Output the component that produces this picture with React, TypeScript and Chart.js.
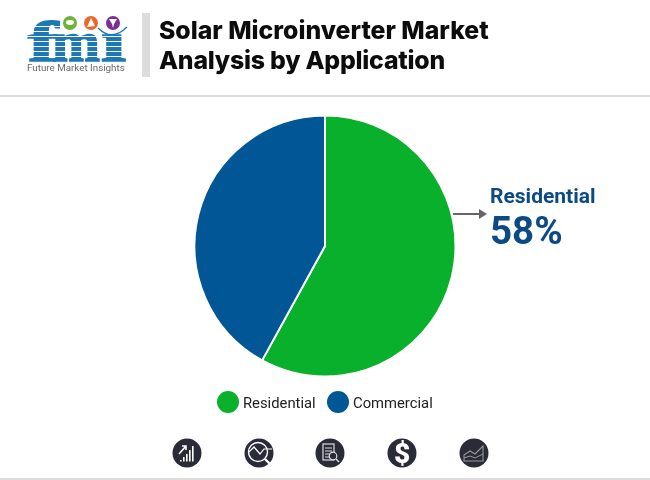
import { useEffect, useRef } from "react"
import { Chart, registerables } from "chart.js"

Chart.register(...registerables)

const categories = ["Residential", "Commercial"]
const shares = [58, 42]
const sliceColors = ["#08b02c", "#015796"]
const titleLines = ["Solar Microinverter Market", "Analysis by Application"]

const ICON_BG = "#2a2b38"
const LOGO_BLUE = "#1d78b6"

function Logo() {
  const stripes = [16, 21, 26, 31, 36, 41, 46]
  const serif = { fontFamily: "'Liberation Serif'", fontWeight: 700, fontSize: 58, fill: LOGO_BLUE, stroke: LOGO_BLUE, strokeWidth: 1.6 }
  return (
    <svg width="130" height="80" style={{ position: "absolute", left: 20, top: 10 }}>
      <text x="8" y="51" {...serif} textLength="30" lengthAdjust="spacingAndGlyphs">f</text>
      <text x="32" y="51" {...serif} textLength="48" lengthAdjust="spacingAndGlyphs">m</text>
      <text x="81" y="51" {...serif} textLength="25" lengthAdjust="spacingAndGlyphs">ı</text>
      {stripes.map((y) => (
        <rect key={y} x="4" y={y} width="104" height="1" fill="#fff" />
      ))}
      <circle cx="50" cy="13" r="7" fill="#6fb23a" />
      <ellipse cx="50" cy="12.5" rx="4" ry="2.4" fill="#fff" />
      <circle cx="71" cy="13" r="7" fill="#e8692a" />
      <path d="M71 8 L75 16 L67 17 Z" fill="#fff" />
      <circle cx="93" cy="13" r="7" fill="#7d2f8e" />
      <path d="M89 9 H97 L94 14 L93 18 L92 14 Z" fill="#fff" />
      <path d="M78 18 Q92 32 107 17" stroke={LOGO_BLUE} strokeWidth="1.2" fill="none" />
      <text x="7" y="61" fontFamily="Roboto" fontSize="9.8" fill="#6a6a6a">Future Market Insights</text>
    </svg>
  )
}

function Icon({ cx, children }: { cx: number; children: React.ReactNode }) {
  return (
    <svg width="32" height="32" viewBox="-16 -16 32 32" style={{ position: "absolute", left: cx - 16, top: 437 }}>
      <circle r="14.5" fill={ICON_BG} />
      {children}
    </svg>
  )
}

export default function App() {
  const canvasRef = useRef<HTMLCanvasElement>(null)

  useEffect(() => {
    document.body.style.margin = "0"
    if (!canvasRef.current) return

    const chart = new Chart(canvasRef.current, {
      type: "pie",
      data: {
        labels: categories,
        datasets: [
          {
            data: shares,
            backgroundColor: sliceColors,
            borderColor: "#fff",
            borderWidth: 2,
          },
        ],
      },
      options: {
        responsive: false,
        animation: false,
        layout: { padding: { left: 193.5, right: 193.5, top: 114.5, bottom: 102.5 } },
        plugins: {
          legend: { display: false },
          tooltip: { enabled: false },
        },
      },
    })

    return () => {
      chart.destroy()
    }
  }, [])

  return (
    <div style={{ position: "relative", width: 650, height: 480, overflow: "hidden", background: "#fff", fontFamily: "Roboto" }}>
      <canvas ref={canvasRef} width={650} height={480} style={{ position: "absolute", left: 0, top: 0 }} />

      <Logo />
      <div style={{ position: "absolute", left: 142, top: 13, width: 8, height: 64, background: "#dcdcdc" }} />
      {titleLines.map((line, i) => (
        <div
          key={line}
          style={{ position: "absolute", left: 159, top: 15 + i * 30, fontFamily: "Inter", fontSize: 24.8, letterSpacing: i === 1 ? -0.22 : 0, lineHeight: "30px", fontWeight: 800, color: "#0c0c0c", whiteSpace: "nowrap" }}
        >
          {line}
        </div>
      ))}
      <div style={{ position: "absolute", left: 0, top: 95, width: 650, height: 2, background: "#dcdcdc" }} />

      <svg width="40" height="16" style={{ position: "absolute", left: 450, top: 206 }}>
        <line x1="3" y1="8" x2="30" y2="8" stroke="#666" strokeWidth="2" />
        <path d="M29 3 L37 8 L29 13 Z" fill="#666" />
      </svg>
      <div style={{ position: "absolute", left: 490, top: 183, fontSize: 21, lineHeight: "26px", fontWeight: 700, color: "#0b4a85", whiteSpace: "nowrap" }}>
        {categories[0]}
      </div>
      <div style={{ position: "absolute", left: 490, top: 209, fontSize: 38.5, lineHeight: "44px", fontWeight: 700, color: "#0b4a85", whiteSpace: "nowrap" }}>
        {shares[0]}%
      </div>

      {categories.map((name, i) => (
        <div key={name}>
          <div style={{ position: "absolute", left: [217, 327][i], top: 391, width: 22, height: 22, borderRadius: "50%", background: sliceColors[i] }} />
          <div style={{ position: "absolute", left: [243, 353][i], top: 393, fontSize: 14.8, lineHeight: "20px", color: "#222", whiteSpace: "nowrap" }}>
            {name}
          </div>
        </div>
      ))}

      <Icon cx={187}>
        <g fill="#fff">
          <rect x="-7" y="7" width="1.6" height="1.5" />
          <rect x="-4" y="4" width="1.6" height="4.5" />
          <rect x="-1" y="1" width="1.6" height="7.5" />
          <rect x="2" y="-3" width="1.6" height="11.5" />
          <rect x="5" y="-7" width="1.6" height="15.5" />
        </g>
        <path d="M-8 1 L-1 -7 M-5 -7 H-1 V-3" stroke="#fff" strokeWidth="1.6" fill="none" />
      </Icon>
      <Icon cx={259}>
        <circle cx="-1" cy="-1" r="9.5" fill="none" stroke="#fff" strokeWidth="1.4" />
        <path d="M-10 -1 L-5 -6 L1 1 L5 -4 H13" fill="none" stroke="#fff" strokeWidth="1.2" />
        <path d="M6 6 L12 12" stroke="#fff" strokeWidth="2.4" />
      </Icon>
      <Icon cx={330}>
        <rect x="-7" y="-9" width="11" height="16" fill="none" stroke="#ddd" strokeWidth="1.2" />
        <path d="M-5 -5 H2 M-5 -2 H2 M-5 1 H0 M-5 4 H0" stroke="#ddd" strokeWidth="1" />
        <circle cx="3" cy="3" r="3.8" fill={ICON_BG} stroke="#ddd" strokeWidth="1.2" />
        <path d="M6 6 L9 9" stroke="#ddd" strokeWidth="1.4" />
      </Icon>
      <Icon cx={402}>
        <text x="0" y="10" textAnchor="middle" fontFamily="Roboto" fontWeight="900" fontSize="28" fill="#fff">$</text>
      </Icon>
      <Icon cx={474}>
        <path d="M-10 8 V2 L-4 -2 L1 1 L9 -7 V8 Z" fill="none" stroke="#999" strokeWidth="1.1" />
        <path d="M-10 5 L-4 3 L1 5 L9 1" fill="none" stroke="#999" strokeWidth="1" />
      </Icon>

      <div style={{ position: "absolute", left: 0, top: 478, width: 650, height: 2, background: "#dcdcdc" }} />
    </div>
  )
}
